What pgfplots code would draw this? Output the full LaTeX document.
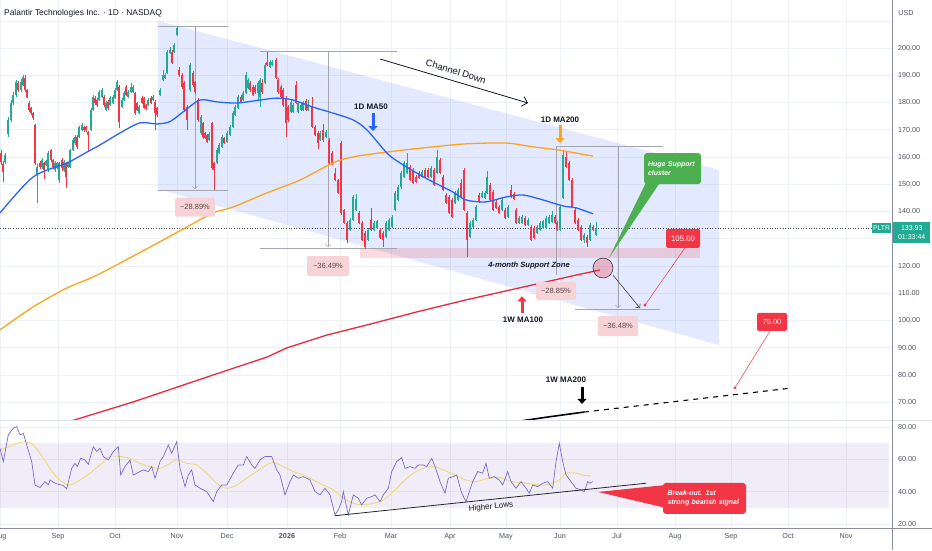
\documentclass[border=0pt]{standalone}
\usepackage{fontspec}
\setmainfont{Liberation Sans}
\usepackage{pgfplots}
\pgfplotsset{compat=1.18}
\usepackage{pgfplotstable}
\usetikzlibrary{arrows.meta}
\definecolor{cg}{HTML}{22AB94}
\definecolor{cr}{HTML}{F23645}
\definecolor{maBlue}{HTML}{2962FF}
\definecolor{maOrange}{HTML}{FFA31A}
\definecolor{maRed}{HTML}{E8283C}
\definecolor{rsiP}{HTML}{7A6CC8}
\definecolor{rsiBand}{HTML}{7E57C2}
\definecolor{rsiY}{HTML}{EED97A}
\definecolor{gridc}{HTML}{EEF1F6}
\definecolor{txt}{HTML}{131722}
\definecolor{tickc}{HTML}{50535E}
\definecolor{axisc}{HTML}{8A8D96}
\definecolor{sepc}{HTML}{E0E3EB}
\definecolor{measc}{HTML}{A3A6AF}
\definecolor{pctbox}{HTML}{F7D3D7}
\definecolor{pcttext}{HTML}{5A4A4C}
\definecolor{calg}{HTML}{4CAF50}
\newcommand{\fs}[1]{\fontsize{#1}{#1}\selectfont}

\pgfplotstableread{
x o h l c
1 161.4 162.5 157.0 158.1
3 157.5 158.5 150.8 154.5
5 158.1 161.5 157.5 160.7
8 168.5 174.5 167.5 173.6
11 173.6 180.8 172.8 179.8
13 179.8 183.8 179.0 182.7
16 182.7 188.3 182.0 187.5
18 187.2 188.0 184.0 184.6
21 184.6 188.5 184.0 187.5
23 186.4 190.2 186.0 189.4
25 189.0 190.0 184.0 184.6
27 184.6 185.0 181.5 182.0
29 179.8 180.5 176.5 177.2
31 178.0 178.5 175.5 176.1
33 176.1 176.5 173.5 174.3
35 171.7 172.0 157.0 157.8
37 153.4 157.5 143.1 156.3
40 157.8 158.5 155.5 156.3
42 156.3 159.5 155.5 158.9
44 157.8 158.2 152.0 155.2
46 157.0 159.0 156.5 158.5
48 155.2 162.2 154.5 161.4
51 162.5 163.0 158.0 158.9
53 158.9 159.2 155.5 156.3
55 155.2 158.5 154.5 157.8
57 156.0 158.3 155.5 157.8
59 151.5 158.3 150.6 157.8
62 158.9 159.5 155.0 155.9
64 155.2 158.8 154.5 158.2
66 157.8 158.2 148.6 152.6
68 156.3 158.3 155.8 157.8
70 156.3 163.0 155.8 162.5
73 162.5 166.8 162.0 166.2
75 165.1 168.0 164.5 167.3
77 167.3 168.0 163.0 163.7
79 167.3 171.5 166.8 171.0
82 169.9 172.3 169.5 171.7
84 171.0 171.5 169.3 169.9
86 171.0 171.5 169.0 169.9
88 169.2 169.6 161.8 168.1
91 169.9 177.8 169.5 177.2
93 177.2 182.6 176.8 182.0
95 181.6 182.4 179.2 179.8
97 180.9 181.5 178.5 179.1
99 180.9 184.5 180.5 183.8
102 182.0 185.3 181.5 184.6
104 182.0 182.6 178.5 179.1
106 177.2 180.4 176.8 179.8
108 180.2 180.8 177.4 178.0
110 179.1 182.2 178.6 181.6
113 179.8 182.6 179.3 182.0
115 181.6 185.2 181.2 184.6
117 184.6 188.3 184.2 187.5
119 185.7 186.3 170.5 172.8
122 178.4 181.5 177.8 180.9
124 180.9 184.1 180.4 183.5
126 185.7 186.3 182.2 182.7
128 182.0 184.4 181.5 183.8
131 183.8 187.3 183.3 185.7
133 183.8 186.3 183.4 185.7
135 183.5 184.0 175.5 176.1
137 179.8 180.3 176.7 177.2
139 176.1 178.9 175.6 178.3
142 181.6 182.2 179.3 179.8
144 181.6 182.0 177.5 178.0
146 179.1 179.6 177.4 178.0
148 179.1 181.5 178.6 180.9
151 181.6 182.2 179.3 179.8
153 180.9 182.6 180.4 182.0
155 180.2 180.8 169.9 176.1
157 178.0 178.5 174.8 175.4
160 182.7 185.2 182.2 184.6
163 188.3 192.0 187.8 190.1
165 189.0 190.8 188.5 190.1
167 190.8 199.3 190.3 198.5
170 198.2 200.5 197.7 199.3
172 198.5 199.2 194.0 194.5
174 198.5 201.8 198.0 201.1
177 204.8 208.2 204.3 207.3
179 191.9 193.0 189.5 190.1
182 190.1 190.8 185.0 185.7
184 187.2 187.8 176.5 177.2
187 178.3 179.0 169.9 173.6
190 184.6 194.5 184.0 193.8
193 190.8 191.5 185.8 186.4
195 187.5 188.0 183.2 183.8
198 180.9 181.5 173.0 173.6
201 168.8 175.3 168.2 174.7
203 172.5 173.0 166.7 167.3
205 168.8 169.3 166.5 167.0
207 168.1 168.6 165.0 165.5
209 166.2 169.0 165.7 168.4
212 172.5 173.0 155.3 155.9
214 157.8 158.3 147.9 155.2
217 157.8 163.1 157.3 162.5
219 161.4 165.0 160.9 164.4
222 163.7 167.9 163.2 167.3
224 166.9 167.5 164.6 165.1
227 165.5 169.4 165.0 168.8
230 168.1 171.6 167.6 171.0
233 171.0 176.7 170.5 176.1
235 175.4 178.9 174.9 178.3
238 178.0 182.6 177.5 182.0
241 182.0 182.6 179.7 180.2
243 180.9 184.1 180.4 183.5
246 183.5 191.2 183.0 190.1
248 185.3 189.0 184.8 188.3
250 187.2 187.8 184.0 184.6
253 185.7 186.3 182.2 182.7
255 185.7 186.3 183.2 183.8
258 183.5 187.8 180.9 187.2
260 182.0 189.0 178.3 188.3
262 187.2 188.5 183.2 183.8
265 187.2 194.4 186.7 193.8
267 194.9 198.5 193.3 193.8
270 193.1 195.5 192.6 194.9
272 193.8 195.6 193.3 194.9
276 195.6 196.2 188.5 189.0
278 188.3 188.9 183.2 183.8
281 185.7 186.3 181.5 182.0
283 184.6 185.2 178.5 179.1
286 181.6 182.2 167.3 172.5
288 178.3 178.9 173.0 173.6
291 176.5 180.8 176.0 180.2
293 176.5 179.7 176.0 179.1
296 186.4 188.0 179.3 179.8
298 176.5 180.4 176.0 179.8
301 177.2 179.7 176.7 179.1
303 177.2 180.4 176.7 179.8
306 180.5 181.1 176.7 177.2
308 177.2 180.9 176.7 179.1
312 178.3 182.0 170.5 171.0
315 171.0 171.6 167.6 168.1
318 168.8 169.4 163.0 165.1
320 166.2 169.5 165.7 168.8
323 169.9 172.0 165.5 166.2
326 167.3 169.8 166.8 169.2
329 166.2 166.8 157.2 157.8
332 161.4 162.0 157.2 157.8
335 154.1 156.0 151.0 151.5
338 151.5 152.0 146.3 146.8
341 165.1 166.0 138.8 139.4
344 140.5 141.0 135.2 135.7
347 135.7 136.3 128.4 129.5
350 133.2 137.5 132.7 136.9
353 136.9 146.0 136.4 145.3
356 140.5 146.5 140.0 144.6
359 139.4 140.0 135.2 135.7
362 135.7 136.3 129.0 129.5
365 132.1 132.7 126.3 126.9
368 129.5 133.8 129.0 133.2
371 136.9 141.2 132.7 133.2
374 133.2 136.3 132.7 135.7
377 134.0 137.0 133.5 136.5
380 133.2 133.8 129.7 130.2
383 132.1 132.7 126.9 129.5
386 130.6 136.3 130.1 135.7
389 133.2 137.5 132.7 136.9
392 134.3 138.6 133.8 138.0
395 140.5 147.4 140.0 146.8
398 144.2 149.6 143.7 148.97
401 148.97 154.7 148.4 154.1
404 152.6 158.4 152.1 157.8
407 154.1 161.4 153.6 157.8
410 156.3 156.9 151.0 151.5
413 155.2 155.8 149.9 150.4
416 152.6 153.2 150.3 150.8
419 154.1 154.7 151.8 152.3
422 152.6 155.1 152.1 154.5
425 155.2 155.8 152.1 152.6
428 155.2 155.8 152.1 152.6
431 152.6 156.5 152.1 155.9
434 155.2 155.8 149.2 149.7
437 154.1 162.5 153.6 160.0
440 158.9 159.5 153.6 154.1
443 152.6 153.2 147.4 147.9
446 146.0 146.6 142.6 143.1
449 145.3 145.9 138.9 139.4
452 144.2 144.8 137.5 138.0
455 143.1 147.4 142.6 146.8
458 144.2 148.5 143.7 147.9
461 150.4 152.0 144.8 145.3
464 155.2 155.8 140.0 140.5
467 139.4 140.0 123.2 129.5
470 130.6 136.3 130.1 135.7
473 134.3 137.5 133.8 136.9
476 136.9 142.2 136.4 141.6
479 146.0 146.6 143.0 143.5
482 145.3 147.4 144.8 146.8
485 144.9 147.4 144.4 146.8
487 146.8 155.0 146.3 152.6
490 149.7 150.3 143.7 144.2
493 147.1 147.7 140.0 140.5
496 143.5 144.1 140.7 141.2
499 141.6 142.2 138.9 139.4
502 140.5 144.8 140.0 144.2
505 140.5 141.1 137.1 137.6
508 138.0 142.2 137.5 141.6
511 147.9 149.7 144.8 145.3
514 146.5 147.0 144.0 144.5
516 140.5 141.1 135.2 135.7
519 135.7 138.2 135.2 137.6
522 135.7 138.6 135.2 138.0
525 137.6 138.2 134.5 135.0
528 135.0 137.5 134.5 136.9
531 134.3 134.9 129.0 129.5
534 133.9 134.5 129.7 130.2
537 132.1 134.9 131.6 134.3
540 133.2 136.3 132.7 135.7
543 134.0 137.0 133.5 136.5
546 133.9 138.2 133.4 137.6
549 135.7 138.6 135.2 138.0
552 136.1 140.0 135.6 138.7
555 138.0 138.6 135.2 135.7
557 135.7 136.3 132.7 133.2
560 133.2 142.2 132.7 141.6
563 145.0 162.2 144.5 160.7
566 160.0 161.7 155.8 156.3
569 157.8 158.4 151.0 151.5
572 151.5 152.1 141.1 141.6
575 140.5 141.1 135.2 135.7
578 136.9 137.5 132.7 133.2
581 134.3 134.9 129.0 129.5
584 129.5 131.9 128.5 131.3
587 130.6 131.2 127.0 128.4
590 129.5 135.6 129.0 135.0
593 134.3 134.9 132.7 133.2
596 131.3 136.0 130.8 133.93
}\candles

\pgfplotsset{tvaxis/.style={
  scale only axis, width=892pt, xmin=0, xmax=892,
  axis line style={draw=none}, major tick length=0pt,
  grid=major, major grid style={gridc, line width=0.5pt},
  xtick={0,58,115,177,227,287,340,391,450,506,560,617,675,731,788,846},
  /pgf/number format/assume math mode=true,
  tick label style={font=\fs{7.2}, text=tickc},
  yticklabel pos=right,
  yticklabel style={anchor=west, inner sep=0pt, xshift=6pt,
    /pgf/number format/.cd, fixed, fixed zerofill, precision=2},
  clip mode=individual}}

\begin{document}
\begin{tikzpicture}
\useasboundingbox (0pt,0pt) rectangle (932pt,550pt);
\fill[white] (0pt,0pt) rectangle (932pt,550pt);

% ================= MAIN PRICE PANE =================
\begin{axis}[tvaxis, at={(0pt,130pt)}, anchor=south west, height=420pt,
  ymin=63.39, ymax=217.63,
  xticklabels={},
  ytick={70,80,90,100,110,120,140,150,160,170,180,190,200},
  extra y ticks={130,210}, extra y tick labels={},
  extra tick style={grid=major}]

% channel
\addplot[fill=maBlue, fill opacity=0.13, draw=none] coordinates {(158,210.0)(719,155.2)(719,90.9)(158,148.2)} -- cycle;
% support zone
\addplot[fill=cr, fill opacity=0.18, draw=none] coordinates {(360,122.9)(700,122.9)(700,126.6)(360,126.6)} -- cycle;

% measurement tools
\addplot[measc, line width=0.6pt] coordinates {(158,207.9)(228,207.9)};
\addplot[measc, line width=0.6pt] coordinates {(158,147.9)(228,147.9)};
\addplot[measc, line width=0.5pt, -{Straight Barb[length=2.5pt,width=5pt]}] coordinates {(195,207.9)(195,148.2)};
\addplot[measc, line width=0.6pt] coordinates {(260,198.9)(397,198.9)};
\addplot[measc, line width=0.6pt] coordinates {(260,126.6)(397,126.6)};
\addplot[measc, line width=0.5pt, -{Straight Barb[length=2.5pt,width=5pt]}] coordinates {(328,198.9)(328,126.9)};
\addplot[measc, line width=0.6pt] coordinates {(556,164.0)(663,164.0)};
\addplot[measc, line width=0.5pt] coordinates {(556,164.0)(556,116.7)};
\addplot[measc, line width=0.5pt, -{Straight Barb[length=2.5pt,width=5pt]}] coordinates {(618,164.0)(618,104.5)};
\addplot[measc, line width=0.6pt] coordinates {(575,104.2)(660,104.2)};

% current price line
\addplot[tickc, dotted, line width=0.6pt] coordinates {(0,133.93)(872,133.93)};

% candles: wicks and bodies
\addplot[draw=none, forget plot, restrict expr to domain={\thisrow{c}-\thisrow{o}}{0:1000},
  error bars/.cd, y dir=plus, y explicit, error mark=none,
  error bar style={draw=cg, line width=0.6pt}]
  table[x=x, y=l, y error plus expr=\thisrow{h}-\thisrow{l}] {\candles};
\addplot[draw=none, forget plot, restrict expr to domain={\thisrow{o}-\thisrow{c}}{0.0001:1000},
  error bars/.cd, y dir=plus, y explicit, error mark=none,
  error bar style={draw=cr, line width=0.6pt}]
  table[x=x, y=l, y error plus expr=\thisrow{h}-\thisrow{l}] {\candles};
\addplot[draw=none, forget plot, restrict expr to domain={\thisrow{c}-\thisrow{o}}{0:1000},
  error bars/.cd, y dir=plus, y explicit, error mark=none,
  error bar style={draw=cg, line width=2.2pt}]
  table[x=x, y=o, y error plus expr=\thisrow{c}-\thisrow{o}] {\candles};
\addplot[draw=none, forget plot, restrict expr to domain={\thisrow{o}-\thisrow{c}}{0.0001:1000},
  error bars/.cd, y dir=plus, y explicit, error mark=none,
  error bar style={draw=cr, line width=2.2pt}]
  table[x=x, y=c, y error plus expr=\thisrow{o}-\thisrow{c}] {\candles};

% moving averages
\addplot[maOrange, line width=1.3pt, smooth] coordinates {(0,96.5)(33,104.9)(67,111.9)(97,116.6)(150,126.9)(187,134.3)(213,139.4)(233,141.6)(267,146.8)(300,151.5)(333,157.8)(353,160.0)(387,161.8)(433,163.7)(466,164.8)(506,165.1)(533,163.7)(559,162.5)(593,160.3)};
\addplot[maBlue, line width=1.3pt, smooth] coordinates {(0,139.4)(33,152.6)(67,157.8)(87,161.8)(100,164.4)(120,168.8)(140,172.5)(157,172.1)(170,173.0)(183,176.5)(200,180.9)(217,180.2)(237,179.8)(260,180.9)(277,181.6)(293,180.9)(313,178.3)(333,176.1)(353,173.6)(367,169.9)(387,161.4)(400,157.8)(420,153.4)(433,150.8)(453,147.1)(466,144.2)(486,143.5)(506,145.3)(523,146.0)(543,144.2)(563,142.0)(576,141.3)(593,139.1)};
\addplot[maRed, line width=1.3pt] coordinates {(70,62.9)(133,70.0)(213,79.9)(267,86.5)(287,89.9)(327,94.6)(367,98.3)(417,103.1)(466,107.5)(546,114.1)(576,116.6)(600,118.5)};
\addplot[black, line width=1.6pt] coordinates {(520,63.0)(550,64.6)(584,66.3)};
\addplot[black, line width=1.1pt, dash pattern=on 5pt off 5pt] coordinates {(584,66.3)(791,75.1)};

% support cluster circle
\addplot[only marks, mark=*, mark size=10pt, mark options={fill=cr, fill opacity=0.3, draw=none}] coordinates {(603,119.2)};

% projections
\addplot[black!75, line width=0.6pt, -{Straight Barb[length=3pt,width=6pt]}] coordinates {(613,116.6)(640,104.5)};
\addplot[cr, line width=0.5pt] coordinates {(645,105.6)(685,126.6)};
\addplot[only marks, mark=*, mark size=1.3pt, cr] coordinates {(645,105.6)};
\addplot[cr, line width=0.5pt] coordinates {(735,75.2)(770,96.1)};
\addplot[only marks, mark=*, mark size=1.3pt, cr] coordinates {(735,75.2)};

% green callout tail
\addplot[fill=calg, draw=none] coordinates {(646,150.6)(660,150.6)(609,122.9)} -- cycle;

% texts and labels
\node[font=\fs{8.4}, text=txt, anchor=west, inner sep=0pt] at (axis cs:4,212.9) {Palantir Technologies Inc. · 1D · NASDAQ};
\node[font=\fs{7.2}, text=tickc] at (axis cs:906,212.9) {USD};

\node[font=\fs{9.5}, text=txt, rotate=-17] at (axis cs:456,191.4) {Channel Down};
\draw[txt, line width=0.8pt, -{Straight Barb[length=5pt,width=10pt]}] (axis cs:380,195.97) -- (axis cs:528,179.8);

\node[font=\bfseries\fs{8}, text=txt] at (axis cs:371,178.3) {1D MA50};
\draw[maBlue, line width=3pt, -{Triangle[width=9pt,length=5pt]}] (axis cs:373,176.3) -- (axis cs:373,169.5);
\node[font=\bfseries\fs{8}, text=txt] at (axis cs:560,173.7) {1D MA200};
\draw[maOrange, line width=3pt, -{Triangle[width=9pt,length=5pt]}] (axis cs:560,171.6) -- (axis cs:560,165.1);
\node[font=\bfseries\fs{8}, text=txt] at (axis cs:523,100.3) {1W MA100};
\draw[cr, line width=3pt, -{Triangle[width=9pt,length=5pt]}] (axis cs:522,102.6) -- (axis cs:522,108.8);
\node[font=\bfseries\fs{8}, text=txt] at (axis cs:566,78.1) {1W MA200};
\draw[black, line width=3pt, -{Triangle[width=9pt,length=5pt]}] (axis cs:582,75.6) -- (axis cs:582,69.3);

\node[fill=pctbox, text=pcttext, font=\fs{7.5}, minimum width=40pt, minimum height=19pt, inner sep=0pt, rounded corners=1.5pt] at (axis cs:195,141.6) {−28.89\%};
\node[fill=pctbox, text=pcttext, font=\fs{7.5}, minimum width=42pt, minimum height=20pt, inner sep=0pt, rounded corners=1.5pt] at (axis cs:328,119.9) {−36.49\%};
\node[fill=pctbox, text=pcttext, font=\fs{7.5}, minimum width=40pt, minimum height=18pt, inner sep=0pt, rounded corners=1.5pt] at (axis cs:556,110.8) {−28.85\%};
\node[fill=pctbox, text=pcttext, font=\fs{7.5}, minimum width=40pt, minimum height=20pt, inner sep=0pt, rounded corners=1.5pt] at (axis cs:618,97.9) {−36.48\%};

\node[font=\bfseries\itshape\fs{7.6}, text=txt] at (axis cs:529,120.1) {4-month Support Zone};

\node[fill=calg, rounded corners=3pt, minimum width=57pt, minimum height=31pt, text width=49pt, align=left, font=\bfseries\itshape\fontsize{7}{9}\selectfont, text=white, inner sep=0pt] at (axis cs:672.5,155.7) {Huge Support\\cluster};

\node[fill=cr, rounded corners=2pt, minimum width=34pt, minimum height=19pt, inner sep=0pt, font=\fs{7.8}, text=white] at (axis cs:683,130.1) {105.00};
\node[fill=cr, rounded corners=2pt, minimum width=30pt, minimum height=18pt, inner sep=0pt, font=\fs{7.3}, text=white] at (axis cs:772,99.4) {75.00};

% price tags
\node[fill=cg, text=white, font=\fs{6.8}, inner sep=0pt, minimum height=10pt, minimum width=19pt] at (axis cs:881.5,133.9) {PLTR};
\node[fill=cg, text=white, font=\fontsize{7}{9.5}\selectfont, align=center, inner sep=0pt, text width=37pt, minimum width=37pt, minimum height=21pt, anchor=west] at (axis cs:893,132.26) {133.93\\01:33:44};
\end{axis}

% ================= RSI PANE =================
\begin{axis}[tvaxis, at={(0pt,22pt)}, anchor=south west, height=108pt,
  ymin=17.5, ymax=84.3,
  ytick={20,40,60,80},
  xticklabels={Aug,Sep,Oct,Nov,Dec,\textbf{2026},Feb,Mar,Apr,May,Jun,Jul,Aug,Sep,Oct,Nov},
  xticklabel style={anchor=north, inner sep=0pt, yshift=-5pt}]
\addplot[fill=rsiBand, fill opacity=0.1, draw=none] coordinates {(0,30)(889,30)(889,70)(0,70)} -- cycle;
\addplot[rsiY, line width=0.9pt, smooth] coordinates {(0,65.8)(13.3,68.9)(25,70.9)(33.3,68.9)(43.3,60.6)(53.3,51.4)(61.7,46.2)(70,44.1)(80,47.2)(90,51.4)(100,56.5)(110,61.7)(120,61.7)(130,60.6)(140,57.5)(150,55.5)(160,54.4)(170,57.5)(176.7,59.6)(186.7,57.5)(196.7,56.5)(206.7,51.4)(216.7,45.2)(226.7,42.1)(236.7,44.1)(246.7,48.3)(256.7,52.4)(266.7,56.5)(273.3,58)(283.3,55.5)(293.3,52.4)(303.3,50.3)(313.3,47.2)(323.3,44.1)(333.3,41.1)(343.3,35.9)(353.3,32.8)(363.3,31.8)(373.3,32.8)(383.3,34.8)(393.3,40.0)(403.3,46.2)(413.3,51.4)(423.3,54.4)(433.3,55.5)(443.3,53.4)(453.3,50.7)(466,47.2)(476,46.2)(486,47.8)(499.3,48.7)(512.7,46.2)(526,45.2)(539.3,44.1)(549.3,44.5)(559.3,47.2)(566,51.4)(576,51.4)(584.3,50)(591,49.7)};
\addplot[rsiP, line width=0.7pt] coordinates {(0,66.8)(3.3,58.6)(8.3,75.1)(13.3,79.2)(16.7,80.2)(20,75.1)(23.3,76.1)(26.7,68.9)(31.7,58.6)(35,44.1)(40,42.5)(45,46.2)(48.3,44.1)(50,47.2)(55,45.2)(58.3,44.6)(63.3,43.7)(66.7,41.7)(71.7,54.4)(75,57.5)(77.3,55.5)(80.7,60.6)(85,59.6)(88.3,56.9)(93.3,67.8)(96.7,64.7)(100,66.8)(103.3,61.7)(108.3,59.6)(113.3,64.7)(118.3,67.8)(120.7,50.3)(125,55.5)(130,59.6)(133.3,50.3)(140,52.4)(143.3,53.4)(148.3,52.4)(151.7,55.5)(155,48.3)(160,58.6)(163.3,61.7)(168.3,68.9)(171.7,63.7)(176.7,70.9)(180,54.4)(185,43.1)(188.3,50.3)(191.7,53.4)(195,44.1)(200,42.1)(206.7,40.0)(213.3,33.8)(216.7,40.0)(221.7,44.1)(226.7,44.1)(233.3,51.4)(238.3,56.5)(243.3,56.5)(246.7,61.7)(251.7,56.5)(255,54.4)(260,59.6)(265,61.7)(271.7,61.7)(276.7,53.4)(280,50.3)(285,38.0)(290,46.2)(293.3,50.3)(298.3,48.3)(303.3,49.3)(310,47.2)(315,40.0)(320,38.0)(325,42.1)(330,38.0)(335,25.6)(338.3,28.7)(341.7,33.8)(343.3,40.0)(348.3,25.6)(353.3,38.0)(358.3,35.9)(361.7,31.8)(366.7,35.9)(371.7,36.9)(375,38.0)(380,33.8)(383.3,38.0)(388.3,42.1)(391.7,52.4)(396.7,58.6)(401.7,61.1)(405,54.4)(410,55.5)(415,54.4)(418.3,56.5)(423.3,56.5)(426.7,55.5)(431.7,60.6)(435,55.5)(440,46.2)(445,39.0)(448.3,48.3)(453.3,49.3)(456.7,50.3)(461.7,39.0)(466,33.8)(472.7,46.2)(477.7,52.4)(482.7,51.4)(486,57.5)(489.3,48.3)(494.3,49.3)(499.3,47.2)(502.7,44.1)(507.7,52.4)(511,46.2)(516,42.1)(521,46.2)(526,42.1)(529.3,39.0)(532.7,44.1)(537.7,43.1)(542.7,45.2)(547.7,46.2)(552.7,42.1)(556,58.6)(559.3,69.9)(562.7,58.6)(566,50.3)(571,46.2)(576,42.1)(581,41.1)(584.3,40.0)(587.7,46.2)(590,45.2)(592.7,46.2)};
\addplot[black!85, line width=0.8pt] coordinates {(335,25.1)(646,45.2)};
\node[font=\fs{8}, text=txt, rotate=6] at (axis cs:491,30.5) {Higher Lows};
\addplot[fill=cr, draw=none] coordinates {(598,39.8)(666,44.1)(666,29.9)} -- cycle;
\node[fill=cr, rounded corners=3pt, minimum width=83pt, minimum height=31pt, text width=74pt, align=left, font=\bfseries\itshape\fontsize{7}{9}\selectfont, text=white, inner sep=0pt] at (axis cs:704.5,35.8) {Break-out. 1st\\strong bearish signal};
\end{axis}

% frame lines
\draw[sepc, line width=0.6pt] (0pt,130pt) -- (932pt,130pt);
\draw[axisc, line width=0.7pt] (0pt,22pt) -- (932pt,22pt);
\draw[axisc, line width=0.7pt] (892pt,0pt) -- (892pt,550pt);
\end{tikzpicture}
\end{document}
